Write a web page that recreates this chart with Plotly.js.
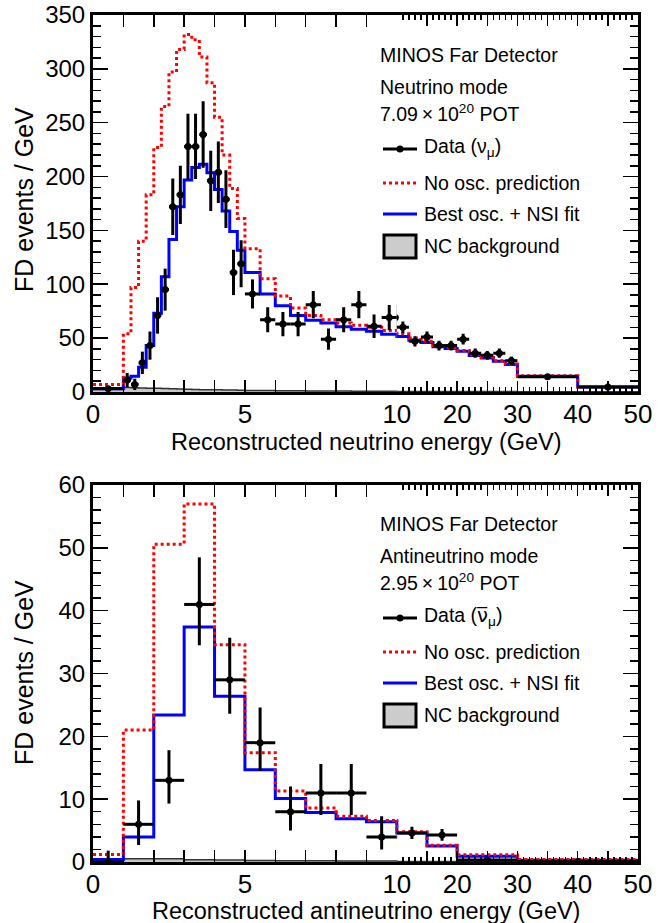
<!DOCTYPE html>
<html>
<head>
<meta charset="utf-8">
<script src="https://cdn.plot.ly/plotly-3.0.1.min.js"></script>
<style>
html,body{margin:0;padding:0;background:#fff;}
#chart{width:665px;height:923px;}
</style>
</head>
<body>
<div id="chart"></div>
<script>
// ===================== DATA =====================
// Neutrino mode (top panel): bin edges in GeV
const nuEdges = [0, 1, 1.25, 1.5, 1.75, 2, 2.25, 2.5, 2.75, 3, 3.25, 3.5, 3.75, 4, 4.25, 4.5, 4.75, 5,
  5.5, 6, 6.5, 7, 7.5, 8, 8.5, 9, 9.5, 10, 12, 14, 16, 18, 20, 22, 24, 26, 28, 30, 40, 50];
// events / GeV
const nuData = [3, 11, 7, 27, 43, 71, 95, 172, 183, 228, 228, 239, 196, 204, 179, 111, 119,
  91, 67, 63, 63, 81, 49, 67, 81, 61, 69, 60, 47, 51, 43, 43, 49, 36, 34, 36, 29, 14, 4.5];
const nuErr = [1.7, 6.6, 5.3, 10.4, 13.1, 16.9, 19.5, 26.2, 27, 30.2, 30.2, 30.9, 28, 28.6, 26.8, 21.1, 21.8,
  13.5, 11.6, 11.3, 11.3, 12.7, 9.9, 11.6, 12.7, 11, 11.7, 5.5, 4.8, 5, 4.6, 4.6, 4.9, 4.2, 4.1, 4.2, 3.8, 1.2, 0.7];
const nuNoOsc = [7, 54, 97, 140, 183, 227, 265, 297, 318, 332, 327, 311, 287, 255, 220, 189, 161,
  133, 105, 89, 78, 71, 67, 64, 62, 60, 57, 54, 50, 47, 43, 41, 38.5, 34.5, 32, 29, 26, 15, 4.8];
const nuBestFit = [3, 13, 14.5, 23, 43, 73, 107, 141.5, 172, 196.7, 208.4, 211.5, 203.5, 188, 168, 149, 131.6,
  111, 91, 80, 71, 66.6, 64, 60.4, 58.2, 56.4, 53.6, 51.5, 48, 46, 42, 40.3, 37.8, 33.8, 31.6, 28.5, 25.4, 14.6, 4.6];
const nuNC = [3.5, 4, 3.9, 3.7, 3.5, 3.3, 3.1, 2.9, 2.7, 2.5, 2.3, 2.1, 2, 1.9, 1.8, 1.7, 1.6,
  1.4, 1.2, 1.1, 1, 0.9, 0.8, 0.8, 0.7, 0.7, 0.6, 0.5, 0.5, 0.45, 0.4, 0.4, 0.35, 0.35, 0.3, 0.3, 0.3, 0.2, 0.1];

// Antineutrino mode (bottom panel)
const nubarEdges = [0, 1, 2, 3, 4, 5, 6, 7, 8, 9, 10, 15, 20, 30, 50];
const nubarData = [0, 6, 13, 41, 29, 19, 8, 11, 11, 4, 4.6, 4.3, 0.3, 0.1];
const nubarErrUp = [1.8, 3.8, 4.8, 7.5, 6.7, 5.6, 4, 4.6, 4.6, 3.3, 1.0, 0.95, 0.25, 0.12];
const nubarErrDown = [0, 3.3, 3.7, 6.5, 5.4, 4.5, 3, 3.5, 3.5, 2, 0.95, 0.9, 0.2, 0.08];
const nubarNoOsc = [1.2, 21, 50.6, 57, 34.6, 17.4, 11.3, 8.6, 7.3, 6.6, 4.8, 2.65, 1.17, 0.38];
const nubarBestFit = [0.4, 4, 23.4, 37.4, 26.4, 14.7, 10.1, 7.9, 6.9, 6.4, 4.6, 2.55, 0.9, 0.27];
const nubarNC = [0.5, 0.5, 0.5, 0.35, 0.3, 0.25, 0.2, 0.2, 0.15, 0.15, 0.1, 0.08, 0.05, 0.03];

// Axis tick labels
const lowTickVals = [0, 1, 2, 3, 4, 5, 6, 7, 8, 9, 10];
const lowTickText = ['0', '', '', '', '', '5', '', '', '', '', '10'];
const highTickVals = [15, 20, 25, 30, 35, 40, 45, 50];
const highTickText = ['', '20', '', '30', '', '40', '', '50'];
const highMinorVals = [11,12,13,14,16,17,18,19,21,22,23,24,26,27,28,29,31,32,33,34,36,37,38,39,41,42,43,44,46,47,48,49];

// ===================== LAYOUT HELPERS =====================
const W = 665, H = 923;
const M = {l: 93, r: 27, t: 15, b: 61};
const PW = W - M.l - M.r, PH = H - M.t - M.b;
const px = x => (x - M.l) / PW;
const py = y => (H - M.b - y) / PH;
const SPLIT = 0.5575;
const FONT = 'Liberation Sans, Arial, Helvetica, sans-serif';

function steps(edges, vals) { return {x: edges.slice(), y: vals.concat([vals[vals.length - 1]])}; }
function centers(edges) { return edges.slice(0, -1).map((e, i) => (e + edges[i + 1]) / 2); }
function halfw(edges) { return edges.slice(0, -1).map((e, i) => (edges[i + 1] - e) / 2); }

const traces = [];
function addPanel(edges, data, errUp, errDown, noOsc, best, nc, axPairs) {
  axPairs.forEach(([xa, ya]) => {
    const s1 = steps(edges, nc);
    traces.push({type: 'scatter', mode: 'lines', x: s1.x, y: s1.y, xaxis: xa, yaxis: ya,
      line: {shape: 'hv', color: '#333333', width: 1.5}, fill: 'tozeroy', fillcolor: '#c8c8c8',
      showlegend: false, hoverinfo: 'skip'});
    const s2 = steps(edges, best);
    traces.push({type: 'scatter', mode: 'lines', x: s2.x, y: s2.y, xaxis: xa, yaxis: ya,
      line: {shape: 'hv', color: '#0000ff', width: 3}, showlegend: false});
    const s3 = steps(edges, noOsc);
    traces.push({type: 'scatter', mode: 'lines', x: s3.x, y: s3.y, xaxis: xa, yaxis: ya,
      line: {shape: 'hv', color: '#ff0000', width: 3, dash: 'dot'}, showlegend: false});
    traces.push({type: 'scatter', mode: 'markers', x: centers(edges), y: data, xaxis: xa, yaxis: ya,
      marker: {color: '#000', size: 7},
      error_x: {type: 'data', array: halfw(edges), color: '#000', thickness: 3, width: 0},
      error_y: {type: 'data', array: errUp, arrayminus: errDown, symmetric: false, color: '#000', thickness: 3, width: 0},
      showlegend: false});
  });
}
addPanel(nuEdges, nuData, nuErr, nuErr, nuNoOsc, nuBestFit, nuNC, [['x', 'y'], ['x2', 'y2']]);
addPanel(nubarEdges, nubarData, nubarErrUp, nubarErrDown, nubarNoOsc, nubarBestFit, nubarNC, [['x3', 'y3'], ['x4', 'y4']]);

const tickFontX = {family: FONT, size: 26, color: '#000'};
const tickFontY = {family: FONT, size: 24, color: '#000'};
const baseAx = {showline: true, linecolor: '#000', linewidth: 3, ticks: 'inside', tickcolor: '#000',
  tickwidth: 1.5, showgrid: false, zeroline: false, fixedrange: true};

function xLow(anchor) {
  return Object.assign({}, baseAx, {domain: [0, SPLIT], range: [0, 10], anchor: anchor, mirror: 'ticks',
    tickmode: 'array', tickvals: lowTickVals, ticktext: lowTickText, ticklen: 12, tickfont: tickFontX,
    ticklabelstandoff: -3});
}
function xHigh(anchor) {
  return Object.assign({}, baseAx, {domain: [SPLIT, 1], range: [10, 50], anchor: anchor, mirror: 'ticks',
    tickmode: 'array', tickvals: highTickVals, ticktext: highTickText, ticklen: 11, tickfont: tickFontX,
    ticklabelstandoff: -3,
    minor: {tickmode: 'array', tickvals: highMinorVals, ticks: 'inside', ticklen: 5, tickwidth: 1.5, tickcolor: '#000'}});
}
function yAx(domain, range, dtick, mdtick, anchor, right) {
  return Object.assign({}, baseAx, {domain: domain, range: range, anchor: anchor, dtick: dtick, tick0: 0,
    ticklen: 15, tickfont: tickFontY, side: right ? 'right' : 'left', showticklabels: !right, mirror: false,
    minor: {dtick: mdtick, tick0: 0, ticks: 'inside', ticklen: 8, tickwidth: 1.5, tickcolor: '#000'}});
}
const topDom = [0.555, 1], botDom = [0, 0.445];

// ===================== LEGENDS (manual, ROOT style) =====================
const shapes = [], annotations = [];
function legend(dy, modeText, potText, dataText) {
  const t = (txt, x, y) => annotations.push({xref: 'paper', yref: 'paper', x: px(x), y: py(y + dy),
    text: txt, showarrow: false, xanchor: 'left', yanchor: 'middle', font: {family: FONT, size: 19.5, color: '#000'}});
  t('MINOS Far Detector', 378, 55);
  t(modeText, 378, 87);
  t(potText, 378, 113);
  t(dataText, 422, 147);
  t('No osc. prediction', 422, 183);
  t('Best osc. + NSI fit', 422, 214);
  t('NC background', 422, 246);
  shapes.push({type: 'line', xref: 'paper', yref: 'paper', x0: px(383), x1: px(417), y0: py(149 + dy), y1: py(149 + dy),
    line: {color: '#000', width: 3}});
  shapes.push({type: 'circle', xref: 'paper', yref: 'paper', xsizemode: 'pixel', ysizemode: 'pixel',
    xanchor: px(400), yanchor: py(149 + dy), x0: -3.5, x1: 3.5, y0: -3.5, y1: 3.5,
    fillcolor: '#000', line: {color: '#000', width: 0}});
  shapes.push({type: 'line', xref: 'paper', yref: 'paper', x0: px(383), x1: px(417), y0: py(183 + dy), y1: py(183 + dy),
    line: {color: '#ff0000', width: 3, dash: 'dot'}});
  shapes.push({type: 'line', xref: 'paper', yref: 'paper', x0: px(383), x1: px(417), y0: py(214 + dy), y1: py(214 + dy),
    line: {color: '#0000ff', width: 3}});
  shapes.push({type: 'rect', xref: 'paper', yref: 'paper', x0: px(384), x1: px(416), y0: py(258 + dy), y1: py(235 + dy),
    fillcolor: '#cccccc', line: {color: '#000', width: 3}});
}
legend(0, 'Neutrino mode', '7.09\u2009\u00d7\u200910<sup>20</sup> POT', 'Data (\u03bd<sub>\u03bc</sub>)');
legend(469, 'Antineutrino mode', '2.95\u2009\u00d7\u200910<sup>20</sup> POT',
  'Data (<span style="font-family:DejaVu Sans">\u03bd\u0305</span><sub>\u03bc</sub>)');

// Axis titles
function title(txt, x, y, angle, size) {
  annotations.push({xref: 'paper', yref: 'paper', x: px(x), y: py(y), text: txt, showarrow: false,
    xanchor: 'center', yanchor: 'middle', textangle: angle, font: {family: FONT, size: size, color: '#000'}});
}
title('Reconstructed neutrino energy (GeV)', 366, 442, 0, 23.5);
title('Reconstructed antineutrino energy (GeV)', 366, 911, 0, 23.5);
title('FD events / GeV', 24, 200, -90, 25);
title('FD events / GeV', 24, 673, -90, 25);

const layout = {
  width: W, height: H, margin: M, paper_bgcolor: '#fff', plot_bgcolor: '#fff', showlegend: false,
  font: {family: FONT, color: '#000'},
  xaxis: xLow('y'), xaxis2: xHigh('y2'), xaxis3: xLow('y3'), xaxis4: xHigh('y4'),
  yaxis: yAx(topDom, [0, 350], 50, 10, 'x', false),
  yaxis2: yAx(topDom, [0, 350], 50, 10, 'x2', true),
  yaxis3: yAx(botDom, [0, 60], 10, 2, 'x3', false),
  yaxis4: yAx(botDom, [0, 60], 10, 2, 'x4', true),
  shapes: shapes, annotations: annotations
};
Plotly.newPlot('chart', traces, layout, {staticPlot: true, displayModeBar: false});
</script>
</body>
</html>
